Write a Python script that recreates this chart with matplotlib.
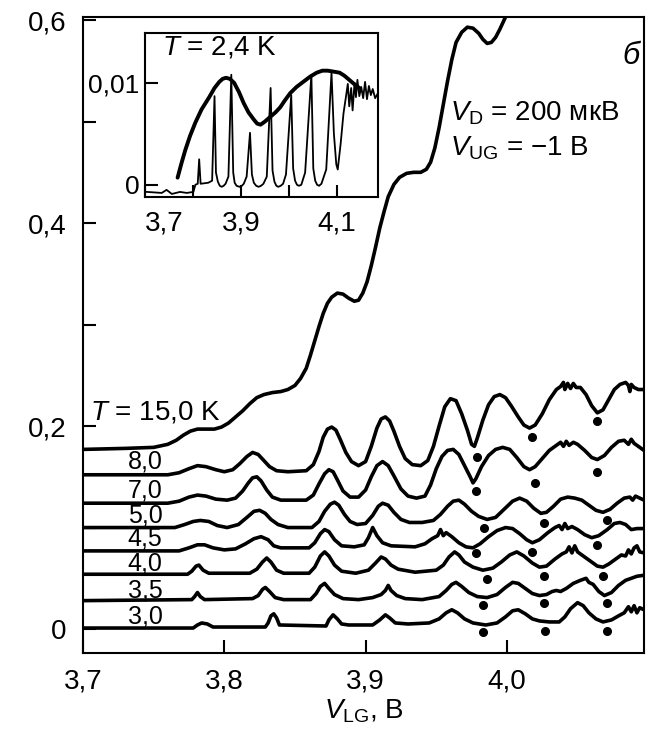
import numpy as np
import matplotlib
matplotlib.use("Agg")
import matplotlib.pyplot as plt

plt.rcParams['font.family'] = ['Liberation Sans', 'DejaVu Sans']
plt.rcParams['mathtext.fontset'] = 'custom'
plt.rcParams['mathtext.rm'] = 'Liberation Sans'
plt.rcParams['mathtext.it'] = 'Liberation Sans:italic'

# curves: V_LG (V) and current values
x15 = [3.700, 3.730, 3.750, 3.760, 3.766, 3.771, 3.776, 3.781, 3.787, 3.793, 3.798, 3.803,
       3.808, 3.813, 3.818, 3.823, 3.828, 3.834, 3.840, 3.845, 3.850, 3.854, 3.858, 3.861,
       3.864, 3.867, 3.870, 3.873, 3.876, 3.880, 3.884, 3.888, 3.892, 3.895, 3.898, 3.901,
       3.904, 3.907, 3.910, 3.913, 3.916, 3.920, 3.924, 3.929, 3.934, 3.939, 3.943, 3.946,
       3.949, 3.952, 3.955, 3.958, 3.961, 3.964, 3.968, 3.972, 3.976, 3.980, 3.983, 3.986,
       3.989, 3.992, 3.995, 3.998, 4.002]
y15 = [0.177, 0.178, 0.179, 0.182, 0.186, 0.191, 0.195, 0.197, 0.197, 0.197, 0.199, 0.203,
       0.209, 0.215, 0.222, 0.228, 0.231, 0.233, 0.234, 0.236, 0.240, 0.247, 0.257, 0.270,
       0.284, 0.298, 0.311, 0.321, 0.327, 0.331, 0.330, 0.326, 0.323, 0.324, 0.331, 0.342,
       0.358, 0.376, 0.395, 0.411, 0.426, 0.438, 0.445, 0.449, 0.450, 0.450, 0.453, 0.460,
       0.474, 0.494, 0.517, 0.540, 0.561, 0.578, 0.588, 0.593, 0.592, 0.587, 0.581, 0.577,
       0.578, 0.583, 0.591, 0.600, 0.612]

x80 = [3.700, 3.760, 3.768, 3.775, 3.781, 3.787, 3.794, 3.800, 3.806, 3.811, 3.816, 3.820,
       3.824, 3.828, 3.832, 3.837, 3.845, 3.858, 3.863, 3.867, 3.870, 3.873, 3.876, 3.879,
       3.882, 3.886, 3.890, 3.895, 3.900, 3.904, 3.908, 3.911, 3.914, 3.917, 3.920, 3.924,
       3.928, 3.933, 3.939, 3.944, 3.948, 3.952, 3.956, 3.960, 3.964, 3.968, 3.972, 3.975,
       3.977, 3.979, 3.983, 3.987, 3.991, 3.995, 3.999, 4.003, 4.008, 4.012, 4.016, 4.020,
       4.025, 4.030, 4.035, 4.038, 4.040, 4.041, 4.043, 4.045, 4.047, 4.049, 4.052, 4.056,
       4.060, 4.064, 4.068, 4.072, 4.076, 4.080, 4.084, 4.086, 4.087, 4.088, 4.090, 4.093,
       4.097]
y80 = [0.152, 0.152, 0.154, 0.158, 0.161, 0.160, 0.157, 0.155, 0.157, 0.163, 0.170, 0.174,
       0.172, 0.166, 0.160, 0.156, 0.155, 0.156, 0.162, 0.175, 0.189, 0.197, 0.199, 0.196,
       0.187, 0.174, 0.165, 0.161, 0.165, 0.180, 0.198, 0.207, 0.209, 0.205, 0.195, 0.180,
       0.168, 0.162, 0.161, 0.166, 0.180, 0.200, 0.219, 0.227, 0.225, 0.212, 0.196, 0.182,
       0.180, 0.188, 0.206, 0.221, 0.229, 0.231, 0.228, 0.220, 0.209, 0.201, 0.198, 0.201,
       0.212, 0.226, 0.236, 0.239, 0.243, 0.236, 0.242, 0.237, 0.242, 0.238, 0.238, 0.231,
       0.220, 0.213, 0.216, 0.226, 0.236, 0.241, 0.243, 0.240, 0.234, 0.241, 0.238, 0.236,
       0.236]

x70 = [3.700, 3.760, 3.768, 3.775, 3.781, 3.787, 3.794, 3.802, 3.808, 3.813, 3.817, 3.820,
       3.823, 3.826, 3.830, 3.834, 3.840, 3.858, 3.863, 3.867, 3.871, 3.874, 3.877, 3.880,
       3.884, 3.889, 3.895, 3.900, 3.904, 3.908, 3.912, 3.916, 3.920, 3.925, 3.930, 3.936,
       3.942, 3.946, 3.950, 3.954, 3.958, 3.962, 3.966, 3.970, 3.974, 3.976, 3.978, 3.982,
       3.987, 3.992, 3.997, 4.002, 4.007, 4.012, 4.016, 4.020, 4.025, 4.030, 4.035, 4.038,
       4.040, 4.042, 4.044, 4.047, 4.050, 4.055, 4.060, 4.064, 4.069, 4.074, 4.079, 4.083,
       4.086, 4.088, 4.090, 4.093, 4.097]
y70 = [0.124, 0.124, 0.126, 0.130, 0.132, 0.131, 0.128, 0.127, 0.129, 0.136, 0.144, 0.149,
       0.150, 0.146, 0.137, 0.130, 0.127, 0.127, 0.132, 0.143, 0.153, 0.157, 0.155, 0.147,
       0.136, 0.130, 0.130, 0.137, 0.150, 0.161, 0.165, 0.161, 0.151, 0.138, 0.131, 0.129,
       0.131, 0.142, 0.158, 0.170, 0.176, 0.177, 0.172, 0.161, 0.150, 0.144, 0.148, 0.160,
       0.171, 0.177, 0.179, 0.177, 0.169, 0.160, 0.157, 0.160, 0.168, 0.176, 0.181, 0.184,
       0.180, 0.185, 0.181, 0.184, 0.182, 0.176, 0.169, 0.167, 0.171, 0.179, 0.185, 0.186,
       0.182, 0.187, 0.183, 0.180, 0.176]

x50 = [3.700, 3.765, 3.772, 3.778, 3.783, 3.789, 3.795, 3.802, 3.810, 3.816, 3.821, 3.825,
       3.829, 3.833, 3.838, 3.845, 3.862, 3.867, 3.871, 3.875, 3.878, 3.881, 3.885, 3.889,
       3.894, 3.900, 3.905, 3.909, 3.912, 3.916, 3.920, 3.925, 3.931, 3.940, 3.948, 3.953,
       3.958, 3.962, 3.966, 3.970, 3.975, 3.980, 3.986, 3.992, 3.998, 4.004, 4.009, 4.014,
       4.019, 4.024, 4.028, 4.033, 4.038, 4.043, 4.048, 4.053, 4.058, 4.063, 4.068, 4.073,
       4.078, 4.083, 4.087, 4.089, 4.091, 4.094, 4.097]
y50 = [0.100, 0.100, 0.103, 0.106, 0.107, 0.106, 0.102, 0.100, 0.103, 0.110, 0.116, 0.117,
       0.114, 0.108, 0.103, 0.100, 0.100, 0.106, 0.116, 0.123, 0.125, 0.122, 0.113, 0.106,
       0.103, 0.104, 0.112, 0.121, 0.124, 0.122, 0.115, 0.108, 0.105, 0.105, 0.107, 0.113,
       0.121, 0.126, 0.127, 0.123, 0.116, 0.111, 0.108, 0.110, 0.118, 0.126, 0.129, 0.126,
       0.119, 0.114, 0.115, 0.121, 0.128, 0.130, 0.129, 0.127, 0.122, 0.117, 0.115, 0.118,
       0.124, 0.129, 0.130, 0.127, 0.131, 0.129, 0.127]

x45 = [3.700, 3.768, 3.775, 3.781, 3.786, 3.792, 3.800, 3.808, 3.815, 3.821, 3.826, 3.831,
       3.835, 3.840, 3.860, 3.864, 3.868, 3.871, 3.874, 3.878, 3.883, 3.892, 3.899, 3.902,
       3.905, 3.908, 3.912, 3.918, 3.935, 3.942, 3.947, 3.951, 3.953, 3.955, 3.957, 3.961,
       3.966, 3.971, 3.976, 3.981, 3.987, 3.993, 3.999, 4.004, 4.009, 4.014, 4.018, 4.023,
       4.029, 4.034, 4.037, 4.039, 4.041, 4.043, 4.046, 4.050, 4.055, 4.060, 4.065, 4.071,
       4.076, 4.080, 4.084, 4.088, 4.092, 4.097]
y45 = [0.077, 0.077, 0.080, 0.083, 0.083, 0.080, 0.078, 0.079, 0.084, 0.089, 0.091, 0.088,
       0.082, 0.080, 0.080, 0.085, 0.094, 0.098, 0.096, 0.088, 0.082, 0.081, 0.083, 0.090,
       0.100, 0.092, 0.085, 0.082, 0.081, 0.084, 0.089, 0.092, 0.098, 0.092, 0.095, 0.091,
       0.085, 0.081, 0.080, 0.084, 0.091, 0.097, 0.100, 0.099, 0.094, 0.088, 0.085, 0.088,
       0.095, 0.100, 0.102, 0.098, 0.104, 0.099, 0.101, 0.098, 0.093, 0.090, 0.092, 0.098,
       0.104, 0.105, 0.103, 0.098, 0.099, 0.099]

x40 = [3.700, 3.774, 3.777, 3.780, 3.782, 3.785, 3.789, 3.818, 3.823, 3.827, 3.830, 3.833,
       3.837, 3.842, 3.860, 3.864, 3.868, 3.871, 3.874, 3.878, 3.883, 3.893, 3.902, 3.907,
       3.911, 3.914, 3.918, 3.923, 3.935, 3.950, 3.955, 3.959, 3.963, 3.966, 3.970, 3.976,
       3.983, 3.990, 3.996, 4.002, 4.007, 4.012, 4.018, 4.023, 4.028, 4.034, 4.039, 4.042,
       4.044, 4.046, 4.048, 4.050, 4.054, 4.059, 4.064, 4.068, 4.072, 4.077, 4.081, 4.084,
       4.086, 4.088, 4.090, 4.092, 4.094, 4.097]
y40 = [0.054, 0.054, 0.057, 0.062, 0.063, 0.058, 0.055, 0.055, 0.059, 0.066, 0.070, 0.066,
       0.058, 0.055, 0.055, 0.061, 0.072, 0.076, 0.072, 0.063, 0.057, 0.055, 0.058, 0.065,
       0.071, 0.069, 0.063, 0.059, 0.056, 0.058, 0.063, 0.071, 0.076, 0.073, 0.066, 0.061,
       0.058, 0.060, 0.066, 0.073, 0.076, 0.072, 0.065, 0.061, 0.062, 0.069, 0.074, 0.076,
       0.081, 0.075, 0.082, 0.076, 0.072, 0.067, 0.062, 0.061, 0.064, 0.069, 0.073, 0.072,
       0.078, 0.074, 0.080, 0.082, 0.076, 0.075]

x35 = [3.700, 3.777, 3.779, 3.781, 3.783, 3.786, 3.820, 3.824, 3.827, 3.829, 3.832, 3.836,
       3.842, 3.861, 3.865, 3.868, 3.871, 3.874, 3.878, 3.884, 3.895, 3.905, 3.911, 3.914,
       3.916, 3.918, 3.922, 3.928, 3.940, 3.952, 3.957, 3.961, 3.964, 3.968, 3.973, 3.979,
       3.986, 3.993, 3.999, 4.004, 4.008, 4.013, 4.018, 4.023, 4.028, 4.032, 4.035, 4.038,
       4.042, 4.047, 4.052, 4.056, 4.058, 4.061, 4.065, 4.069, 4.074, 4.079, 4.084, 4.088,
       4.092, 4.097]
y35 = [0.028, 0.029, 0.032, 0.036, 0.032, 0.029, 0.030, 0.033, 0.039, 0.041, 0.037, 0.031,
       0.029, 0.029, 0.035, 0.042, 0.045, 0.040, 0.034, 0.030, 0.029, 0.031, 0.034, 0.038,
       0.043, 0.038, 0.033, 0.030, 0.029, 0.032, 0.038, 0.044, 0.046, 0.042, 0.036, 0.032,
       0.031, 0.034, 0.041, 0.046, 0.045, 0.040, 0.035, 0.033, 0.034, 0.037, 0.038, 0.037,
       0.040, 0.045, 0.048, 0.050, 0.046, 0.044, 0.037, 0.033, 0.036, 0.043, 0.048, 0.050,
       0.052, 0.053]

x30 = [3.700, 3.778, 3.781, 3.784, 3.788, 3.792, 3.829, 3.831, 3.833, 3.835, 3.837, 3.839,
       3.872, 3.874, 3.877, 3.880, 3.883, 3.888, 3.905, 3.910, 3.914, 3.917, 3.921, 3.930,
       3.945, 3.952, 3.957, 3.961, 3.965, 3.970, 3.976, 3.985, 3.993, 3.999, 4.004, 4.008,
       4.013, 4.018, 4.023, 4.030, 4.037, 4.041, 4.045, 4.050, 4.054, 4.058, 4.063, 4.068,
       4.074, 4.079, 4.083, 4.086, 4.088, 4.090, 4.092, 4.094, 4.097]
y30 = [0.001, 0.001, 0.004, 0.006, 0.005, 0.002, 0.002, 0.006, 0.013, 0.015, 0.011, 0.004,
       0.003, 0.009, 0.014, 0.010, 0.005, 0.004, 0.004, 0.009, 0.014, 0.011, 0.006, 0.005,
       0.006, 0.010, 0.016, 0.019, 0.016, 0.010, 0.006, 0.004, 0.006, 0.012, 0.018, 0.019,
       0.015, 0.010, 0.008, 0.007, 0.007, 0.012, 0.020, 0.026, 0.023, 0.016, 0.010, 0.007,
       0.009, 0.013, 0.016, 0.022, 0.017, 0.023, 0.016, 0.021, 0.019]

curves = [(x15, y15), (x80, y80), (x70, y70), (x50, y50),
          (x45, y45), (x40, y40), (x35, y35), (x30, y30)]

# black dots under the minima
dots_x = [3.979, 4.018, 4.064, 3.978, 4.020, 4.064, 3.984, 4.026, 4.071,
          3.978, 4.018, 4.064, 3.986, 4.026, 4.068, 3.983, 4.026, 4.071,
          3.983, 4.027, 4.071]
dots_y = [0.170, 0.189, 0.205, 0.136, 0.144, 0.155, 0.100, 0.104, 0.107,
          0.075, 0.076, 0.083, 0.049, 0.052, 0.052, 0.024, 0.026, 0.026,
          -0.003, -0.002, -0.002]

temp_labels = ['8,0', '7,0', '5,0', '4,5', '4,0', '3,5', '3,0']
temp_label_y = [0.165, 0.137, 0.112, 0.089, 0.065, 0.038, 0.012]

# inset, T = 2.4 K
ins_x = [3.704, 3.735, 3.745, 3.756, 3.773, 3.787, 3.801, 3.805, 3.810, 3.813, 3.816, 3.832,
         3.840, 3.845, 3.848, 3.852, 3.856, 3.860, 3.864, 3.868, 3.874, 3.880, 3.884, 3.887,
         3.891, 3.897, 3.902, 3.906, 3.912, 3.919, 3.923, 3.927, 3.932, 3.937, 3.942, 3.947,
         3.954, 3.962, 3.966, 3.970, 3.974, 3.978, 3.983, 3.988, 3.994, 4.005, 4.009, 4.013,
         4.017, 4.021, 4.026, 4.034, 4.047, 4.051, 4.055, 4.059, 4.063, 4.068, 4.078, 4.089,
         4.094, 4.099, 4.102, 4.108, 4.114, 4.119, 4.123, 4.126, 4.130, 4.133, 4.137, 4.140,
         4.143, 4.147, 4.151, 4.155, 4.159, 4.163, 4.167, 4.171, 4.175, 4.180, 4.186]
ins_y = [-0.0007, -0.0008, -0.0005, -0.0009, -0.0007, -0.0008, -0.0007, 0.0000, 0.0001, 0.0025,
         0.0001, 0.0002, 0.0004, 0.0087, 0.0012, 0.0003, -0.0001, -0.0002, -0.0001, 0.0001,
         0.0008, 0.0108, 0.0012, 0.0002, -0.0001, -0.0002, -0.0001, 0.0001, 0.0008, 0.0051,
         0.0010, 0.0002, -0.0001, -0.0002, -0.0001, 0.0001, 0.0008, 0.0095, 0.0014, 0.0003,
         -0.0001, -0.0002, -0.0001, 0.0001, 0.0010, 0.0088, 0.0016, 0.0004, 0.0000, -0.0001,
         0.0000, 0.0012, 0.0108, 0.0016, 0.0004, 0.0000, -0.0001, 0.0001, 0.0015, 0.0110,
         0.0050, 0.0020, 0.0015, 0.0040, 0.0070, 0.0086, 0.0099, 0.0077, 0.0095, 0.0073,
         0.0100, 0.0086, 0.0103, 0.0087, 0.0096, 0.0085, 0.0101, 0.0084, 0.0097, 0.0088,
         0.0094, 0.0085, 0.0090]
env_x = [3.768, 3.776, 3.784, 3.794, 3.805, 3.818, 3.834, 3.845, 3.855, 3.862, 3.869, 3.877,
         3.886, 3.896, 3.906, 3.916, 3.927, 3.934, 3.941, 3.950, 3.962, 3.972, 3.982, 3.992,
         4.003, 4.016, 4.030, 4.044, 4.058, 4.070, 4.081, 4.094, 4.106, 4.116, 4.126, 4.136,
         4.147]
env_y = [0.0007, 0.0021, 0.0034, 0.0048, 0.0061, 0.0074, 0.0086, 0.0095, 0.0101, 0.0104,
         0.0105, 0.0104, 0.0100, 0.0091, 0.0080, 0.0071, 0.0064, 0.0060, 0.0059, 0.0062,
         0.0067, 0.0071, 0.0076, 0.0083, 0.0090, 0.0096, 0.0101, 0.0106, 0.0110, 0.0112,
         0.0112, 0.0111, 0.0110, 0.0107, 0.0103, 0.0099, 0.0095]

main_xticks = [3.7, 3.8, 3.9, 4.0]
main_xlabels = ['3,7', '3,8', '3,9', '4,0']
main_yticks = [0, 0.2, 0.4, 0.6]
main_ylabels = ['0', '0,2', '0,4', '0,6']
ins_xticks = [3.7, 3.9, 4.1]
ins_xlabels = ['3,7', '3,9', '4,1']
ins_yticks = [0, 0.01]
ins_ylabels = ['0', '0,01']

fs = 20
fig = plt.figure(figsize=(6.54, 7.31), dpi=100)
ax = fig.add_axes([0.1269, 0.1067, 0.8578, 0.8700])

for cx, cy in curves:
    ax.plot(cx, cy, color='black', lw=2.6, solid_capstyle='round', solid_joinstyle='round')
ax.plot(dots_x, dots_y, 'o', color='black', ms=5.5, ls='none')

ax.set_xlim(3.7, 4.097)
ax.set_ylim(-0.0236, 0.603)
ax.set_xticks(main_xticks)
ax.set_xticklabels(main_xlabels)
ax.set_yticks(main_yticks)
ax.set_yticklabels(main_ylabels)
ax.set_yticks([0.1, 0.3, 0.5], minor=True)
ax.tick_params(direction='in', length=9.5, width=1.5, labelsize=fs, pad=11)
ax.tick_params(axis='y', which='minor', direction='in', length=9.5, width=1.5)
ax.tick_params(axis='y', pad=12)
for s in ax.spines.values():
    s.set_linewidth(1.5)
ax.set_xlabel(r'$V_\mathrm{LG}$, В', fontsize=fs, labelpad=2)

ax.text(3.705, 0.213, r'$T$ = 15,0 K', fontsize=fs, va='center', ha='left')
for lab, ly in zip(temp_labels, temp_label_y):
    ax.text(3.744, ly, lab, fontsize=18, va='center', ha='center')
ax.text(4.0875, 0.565, 'б', fontsize=fs + 2, style='italic', va='center', ha='center')
ax.text(3.9595, 0.508, r'$V_\mathrm{D}$ = 200 мкВ', fontsize=fs, va='center', ha='left')
ax.text(3.9595, 0.474, r'$V_\mathrm{UG}$ = −1 В', fontsize=fs, va='center', ha='left')

# inset
ins = fig.add_axes([0.2217, 0.7305, 0.3563, 0.2244])
ins.plot(ins_x, ins_y, color='black', lw=1.3)
ins.plot(env_x, env_y, color='black', lw=2.8, solid_capstyle='round')
ins.set_xlim(3.7, 4.186)
ins.set_ylim(-0.0012, 0.0149)
ins.set_xticks(ins_xticks)
ins.set_xticklabels(ins_xlabels)
ins.get_xticklabels()[0].set_horizontalalignment('left')
ins.set_xticks([3.8, 4.0], minor=True)
ins.set_yticks(ins_yticks)
ins.set_yticklabels(ins_ylabels)
ins.tick_params(direction='in', length=9, width=1.5, labelsize=fs)
ins.tick_params(axis='x', which='minor', direction='in', length=9, width=1.5)
ins.tick_params(axis='x', pad=10)
ins.tick_params(axis='y', pad=4, labelsize=19)
for s in ins.spines.values():
    s.set_linewidth(1.5)
ins.text(3.735, 0.0135, r'$T$ = 2,4 K', fontsize=fs, va='center', ha='left')

fig.savefig('out.png', dpi=100)
